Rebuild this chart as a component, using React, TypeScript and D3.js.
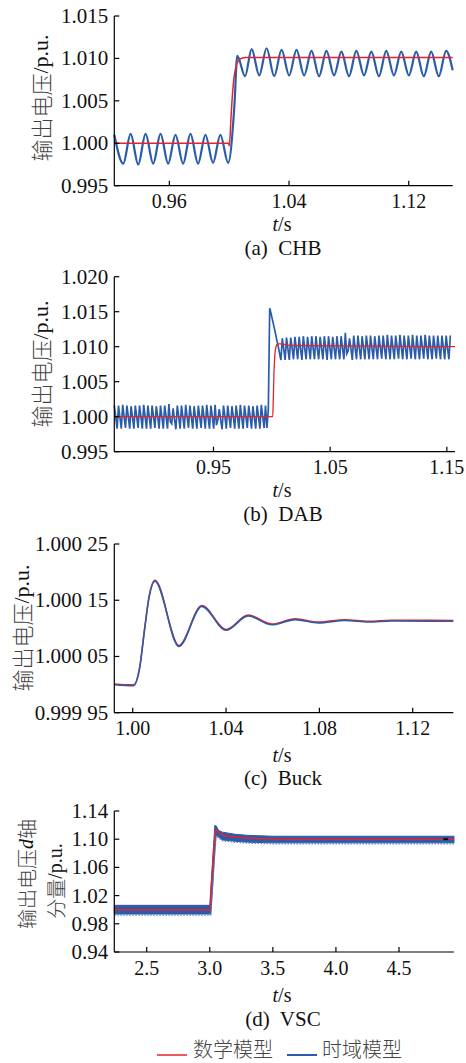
import React from 'react';
import * as d3 from 'd3';

const W = 466;
const H = 1063;
const SERIF = '"Liberation Serif", "Times New Roman", "DejaVu Serif", serif';
const CJK = '"Noto Sans CJK SC", "Noto Sans CJK JP", sans-serif';
const RED = '#e8222c';
const BLUE = '#2b5ca9';

// ---------- (a) CHB ----------
const chbYTicks = [0.995, 1.0, 1.005, 1.01, 1.015];
const chbYLabels = ['0.995', '1.000', '1.005', '1.010', '1.015'];
const chbXTicks = [0.96, 1.04, 1.12];
const chbXLabels = ['0.96', '1.04', '1.12'];
const chbRedT = [0.9232, 0.9995, 1.0001, 1.0012, 1.0022, 1.0032, 1.0045, 1.006, 1.008, 1.011, 1.1494];
const chbRedV = [1.0, 1.0, 0.9997, 1.003, 1.0058, 1.0077, 1.009, 1.0097, 1.01, 1.0101, 1.0101];
const chbBlueT = [
  0.9232, 0.9292, 0.9341, 0.9392, 0.9441, 0.9492, 0.9541, 0.9592, 0.9641, 0.9692, 0.9741, 0.9792,
  0.9841, 0.9892, 0.9941, 0.9993, 1.0035, 1.0054, 1.0106, 1.015, 1.0201, 1.025, 1.0301, 1.035,
  1.0401, 1.045, 1.0501, 1.055, 1.0601, 1.065, 1.0701, 1.075, 1.0801, 1.085, 1.0901, 1.095,
  1.1001, 1.105, 1.1101, 1.115, 1.1201, 1.125, 1.1301, 1.135, 1.1401, 1.145, 1.1494,
];
const chbBlueV = [
  1.001, 0.9976, 1.0011, 0.9975, 1.0011, 0.9976, 1.0011, 0.9976, 1.001, 0.9976, 1.0011, 0.9976,
  1.001, 0.9977, 1.001, 0.9977, 1.0045, 1.0103, 1.0079, 1.0111, 1.008, 1.0112, 1.0079, 1.011,
  1.008, 1.011, 1.008, 1.0109, 1.0079, 1.0109, 1.008, 1.0108, 1.0079, 1.0109, 1.008, 1.0108,
  1.0079, 1.0109, 1.008, 1.0108, 1.008, 1.0108, 1.0079, 1.0108, 1.0079, 1.0109, 1.0086,
];

// ---------- (b) DAB ----------
const dabYTicks = [0.995, 1.0, 1.005, 1.01, 1.015, 1.02];
const dabYLabels = ['0.995', '1.000', '1.005', '1.010', '1.015', '1.020'];
const dabXTicks = [0.95, 1.05, 1.15];
const dabXLabels = ['0.95', '1.05', '1.15'];
const dabRedT = [0.865, 1.0008, 1.0012, 1.0018, 1.0026, 1.0036, 1.005, 1.008, 1.015, 1.157];
const dabRedV = [1.0, 1.0, 1.002, 1.006, 1.0088, 1.01, 1.0104, 1.0104, 1.0102, 1.01];
const dabT0 = 0.865;
const dabDt = 0.0012;
const dabBluePre = [
  1.0016, 1.0, 0.9983, 1.0016, 0.9999, 0.9983, 1.0017, 1.0, 0.9984, 1.0016, 1.0, 0.9983,
  1.0015, 0.9999, 0.9983, 1.0016, 1.0, 0.9984, 1.0016, 1.0, 0.9983, 1.0017, 1.0, 0.9983,
  1.0016, 0.9999, 0.9983, 1.0016, 1.0, 0.9984, 1.0015, 1.0, 0.9983, 1.0016, 0.9999, 0.9983,
  1.0016, 1.0, 0.9983, 1.0018, 0.9993, 0.999, 1.0012, 0.9996, 0.9982, 1.0016, 1.0, 0.9983,
  1.0016, 0.9999, 0.9983, 1.0017, 1.0, 0.9984, 1.0016, 1.0, 0.9983, 1.0015, 0.9999, 0.9983,
  1.0016, 1.0, 0.9984, 1.0016, 1.0, 0.9983, 1.0017, 0.9999, 0.9983, 1.0016, 1.0, 0.9983,
  1.0017, 0.9988, 0.9996, 1.0011, 0.9995, 0.9982, 1.0016, 1.0, 0.9983, 1.0016, 0.9999, 0.9984,
  1.0015, 1.0, 0.9983, 1.0016, 1.0, 0.9983, 1.0017, 0.9999, 0.9983, 1.0016, 1.0, 0.9984,
  1.0016, 1.0, 0.9983, 1.0015, 0.9999, 0.9983, 1.0016, 1.0, 0.9983, 1.0017, 1.0, 0.9984,
  1.0016, 0.9984,
];
const dabBluePost = [
  1.001, 1.0155, 1.0147, 1.0138, 1.0129, 1.012, 1.011, 1.0101, 1.0091, 1.0081,
  1.0112, 1.0097, 1.0081, 1.0113, 1.0097, 1.0081, 1.0113, 1.0098, 1.0082, 1.0114, 1.0098, 1.0082,
  1.0114, 1.0097, 1.0081, 1.0115, 1.0098, 1.0082, 1.0114, 1.0098, 1.0082, 1.0115, 1.0098, 1.0082,
  1.0115, 1.0097, 1.0082, 1.0114, 1.0098, 1.0082, 1.0115, 1.0098, 1.0081, 1.0115, 1.0098, 1.0082,
  1.0114, 1.0098, 1.0082, 1.0115, 1.0097, 1.0082, 1.0115, 1.0098, 1.0082, 1.012, 1.009, 1.0094,
  1.0112, 1.0097, 1.0081, 1.0116, 1.0098, 1.0082, 1.0116, 1.0098, 1.0082, 1.0115, 1.0098, 1.0082,
  1.0116, 1.0099, 1.0082, 1.0116, 1.0098, 1.0082, 1.0115, 1.0098, 1.0082, 1.0116, 1.0099, 1.0083,
  1.0116, 1.0098, 1.0082, 1.0117, 1.0099, 1.0082, 1.0116, 1.0098, 1.0082, 1.0116, 1.0099, 1.0083,
  1.0117, 1.0099, 1.0082, 1.0116, 1.0098, 1.0082, 1.0116, 1.0099, 1.0083, 1.0117, 1.0099, 1.0082,
  1.0116, 1.0098, 1.0082, 1.0116, 1.0099, 1.0083, 1.0117, 1.0099, 1.0082, 1.0116, 1.0098, 1.0082,
  1.0116, 1.0099, 1.0083, 1.0116, 1.0098, 1.0082, 1.0116, 1.0099, 1.0082, 1.0116, 1.0098, 1.0082,
  1.0116,
];

// ---------- (c) Buck ----------
const buckYTicks = [0.99995, 1.00005, 1.00015, 1.00025];
const buckYLabels = ['0.999 95', '1.000 05', '1.000 15', '1.000 25'];
const buckXTicks = [1.0, 1.04, 1.08, 1.12];
const buckXLabels = ['1.00', '1.04', '1.08', '1.12'];
const buckT = [
  0.9921, 1.0003, 1.003, 1.005, 1.007, 1.0095, 1.0198, 1.0296, 1.04, 1.0495, 1.0596, 1.0696,
  1.0796, 1.091, 1.101, 1.111, 1.1374,
];
const buckBlueV = [
  0.9999998, 0.999998, 1.00003, 1.000095, 1.000155, 1.000184, 1.000068, 1.000139, 1.0000966,
  1.0001221, 1.0001063, 1.0001156, 1.0001097, 1.000114, 1.0001112, 1.000113, 1.0001125,
];
const buckRedV = [
  1.0000012, 0.9999995, 1.0000315, 1.0000965, 1.0001565, 1.0001855, 1.0000695, 1.0001405,
  1.000098, 1.0001236, 1.0001078, 1.0001171, 1.0001112, 1.0001155, 1.0001127, 1.0001145,
  1.000114,
];

// ---------- (d) VSC ----------
const vscYTicks = [0.94, 0.98, 1.02, 1.06, 1.1, 1.14];
const vscYLabels = ['0.94', '0.98', '1.02', '1.06', '1.10', '1.14'];
const vscXTicks = [2.5, 3.0, 3.5, 4.0, 4.5];
const vscXLabels = ['2.5', '3.0', '3.5', '4.0', '4.5'];
const vscBandT = [2.243, 3.0, 3.008, 3.02, 3.04, 3.05, 3.07, 3.1, 3.2, 3.3, 3.5, 4.936];
const vscBandHi = [1.0062, 1.0062, 1.029, 1.063, 1.1195, 1.119, 1.1125, 1.11, 1.107, 1.1055, 1.1042, 1.1042];
const vscBandLo = [0.9938, 0.9938, 0.9938, 1.026, 1.082, 1.106, 1.103, 1.099, 1.097, 1.0958, 1.0948, 1.0948];
const vscRedT = [2.243, 3.001, 3.01, 3.03, 3.045, 3.054, 3.07, 3.107, 3.16, 3.239, 3.35, 3.5, 3.7, 4.936];
const vscRedV = [1.0, 1.0, 1.025, 1.08, 1.11, 1.1138, 1.11, 1.1057, 1.1038, 1.1024, 1.1012, 1.1004, 1.1, 1.1];
const vscMarkT = [4.852, 4.89];
const vscMarkV = [1.1, 1.1];

const legendNames = ['数学模型', '时域模型'];

type Pt = [number, number];
const zip = (t: number[], v: number[]): Pt[] =>
  t.slice(0, Math.min(t.length, v.length)).map((x, i) => [x, v[i]] as Pt);

const serifStyle: React.CSSProperties = { fontFamily: SERIF, fontSize: '21px' };
const serifSmall: React.CSSProperties = { fontFamily: SERIF, fontSize: '20px' };
const cjkStyle: React.CSSProperties = { fontFamily: CJK, fontWeight: 300 };

type PanelProps = {
  left: number;
  right: number;
  top: number;
  bottom: number;
  xDomain: [number, number];
  yDomain: [number, number];
  xTicks: number[];
  xLabels: string[];
  yTicks: number[];
  yLabels: string[];
  tsOffset: number;
  capOffset: number;
  caption: string;
  ylabel: React.ReactNode;
  series: (xs: d3.ScaleLinear<number, number>, ys: d3.ScaleLinear<number, number>) => React.ReactNode;
};

function Panel(p: PanelProps) {
  const xs = d3.scaleLinear().domain(p.xDomain).range([p.left, p.right]);
  const ys = d3.scaleLinear().domain(p.yDomain).range([p.bottom, p.top]);
  return (
    <g>
      {p.series(xs, ys)}
      <line x1={p.left} x2={p.left} y1={p.top} y2={p.bottom} stroke="#000" strokeWidth={1.2} />
      <line x1={p.left} x2={p.right} y1={p.bottom} y2={p.bottom} stroke="#000" strokeWidth={1.2} />
      {p.yTicks.map((v, i) => (
        <g key={'y' + i}>
          <line x1={p.left} x2={p.left + 5} y1={ys(v)} y2={ys(v)} stroke="#000" strokeWidth={1.2} />
          <text x={p.left - 6} y={ys(v) + 7} textAnchor="end" style={serifStyle} fill="#111">
            {p.yLabels[i]}
          </text>
        </g>
      ))}
      {p.xTicks.map((v, i) => (
        <g key={'x' + i}>
          <line x1={xs(v)} x2={xs(v)} y1={p.bottom} y2={p.bottom - 5} stroke="#000" strokeWidth={1.2} />
          <text x={xs(v)} y={p.bottom + 22.5} textAnchor="middle" style={serifSmall} fill="#111">
            {p.xLabels[i]}
          </text>
        </g>
      ))}
      <text x={282} y={p.bottom + p.tsOffset} textAnchor="middle" style={serifSmall} fill="#111">
        <tspan fontStyle="italic">t</tspan>/s
      </text>
      <text
        x={283}
        y={p.bottom + p.capOffset}
        textAnchor="middle"
        style={{ ...serifStyle, whiteSpace: 'pre' }}
        fill="#111"
      >
        {p.caption}
      </text>
      {p.ylabel}
    </g>
  );
}

function YLabel({ x, y, size = 22, children }: { x: number; y: number; size?: number; children: React.ReactNode }) {
  return (
    <text
      transform={`translate(${x},${y}) rotate(-90)`}
      textAnchor="middle"
      dominantBaseline="central"
      style={{ fontSize: size + 'px' }}
      fill="#444"
    >
      {children}
    </text>
  );
}

const stdLabel = (x: number, y: number) => (
  <YLabel x={x} y={y}>
    <tspan style={cjkStyle}>输出电压</tspan>
    <tspan style={{ fontFamily: SERIF }} fill="#111">/p.u.</tspan>
  </YLabel>
);

export default function App() {
  const lineMono = (xs: any, ys: any) =>
    d3
      .line<Pt>()
      .x((d) => xs(d[0]))
      .y((d) => ys(d[1]))
      .curve(d3.curveMonotoneX);
  const lineLin = (xs: any, ys: any) =>
    d3
      .line<Pt>()
      .x((d) => xs(d[0]))
      .y((d) => ys(d[1]));

  const dabBlueV = [...dabBluePre, ...dabBluePost];
  const dabBlueT = dabBlueV.map((_, i) => dabT0 + i * dabDt);

  return (
    <svg
      width={W}
      height={H}
      viewBox={`0 0 ${W} ${H}`}
      style={{ position: 'absolute', left: 0, top: 0, background: '#fff' }}
    >
      <rect x={0} y={0} width={W} height={H} fill="#fff" />

      {/* (a) CHB */}
      <Panel
        left={114.3}
        right={452.7}
        top={16}
        bottom={185.7}
        xDomain={[0.9232, 1.1494]}
        yDomain={[0.995, 1.015]}
        xTicks={chbXTicks}
        xLabels={chbXLabels}
        yTicks={chbYTicks}
        yLabels={chbYLabels}
        tsOffset={45}
        capOffset={69.5}
        caption="(a)  CHB"
        ylabel={stdLabel(40, 98)}
        series={(xs, ys) => (
          <g>
            <path d={lineMono(xs, ys)(zip(chbBlueT, chbBlueV)) || ''} fill="none" stroke={BLUE} strokeWidth={2.2} />
            <path d={lineMono(xs, ys)(zip(chbRedT, chbRedV)) || ''} fill="none" stroke={RED} strokeWidth={1.5} />
          </g>
        )}
      />

      {/* (b) DAB */}
      <Panel
        left={114.3}
        right={455}
        top={276.7}
        bottom={451.7}
        xDomain={[0.865, 1.157]}
        yDomain={[0.995, 1.02]}
        xTicks={dabXTicks}
        xLabels={dabXLabels}
        yTicks={dabYTicks}
        yLabels={dabYLabels}
        tsOffset={45}
        capOffset={69.5}
        caption="(b)  DAB"
        ylabel={stdLabel(40, 364)}
        series={(xs, ys) => (
          <g>
            <path d={lineLin(xs, ys)(zip(dabBlueT, dabBlueV)) || ''} fill="none" stroke={BLUE} strokeWidth={1.7} />
            <path d={lineMono(xs, ys)(zip(dabRedT, dabRedV)) || ''} fill="none" stroke={RED} strokeWidth={1.3} />
          </g>
        )}
      />

      {/* (c) Buck */}
      <Panel
        left={114.3}
        right={453.3}
        top={544}
        bottom={712.7}
        xDomain={[0.9921, 1.1374]}
        yDomain={[0.99995, 1.00025]}
        xTicks={buckXTicks}
        xLabels={buckXLabels}
        yTicks={buckYTicks}
        yLabels={buckYLabels}
        tsOffset={49}
        capOffset={72}
        caption="(c)  Buck"
        ylabel={stdLabel(21, 628)}
        series={(xs, ys) => (
          <g>
            <path d={lineMono(xs, ys)(zip(buckT, buckRedV)) || ''} fill="none" stroke={RED} strokeWidth={1.5} />
            <path d={lineMono(xs, ys)(zip(buckT, buckBlueV)) || ''} fill="none" stroke={BLUE} strokeWidth={1.6} />
          </g>
        )}
      />

      {/* (d) VSC */}
      <Panel
        left={114.3}
        right={454}
        top={811}
        bottom={952}
        xDomain={[2.243, 4.936]}
        yDomain={[0.94, 1.14]}
        xTicks={vscXTicks}
        xLabels={vscXLabels}
        yTicks={vscYTicks}
        yLabels={vscYLabels}
        tsOffset={50}
        capOffset={74}
        caption="(d)  VSC"
        ylabel={
          <g>
            <YLabel x={26} y={874} size={20}>
              <tspan style={cjkStyle}>输出电压</tspan>
              <tspan style={{ fontFamily: SERIF, fontStyle: 'italic' }} fill="#111">d</tspan>
              <tspan style={cjkStyle}>轴</tspan>
            </YLabel>
            <YLabel x={55} y={881} size={20}>
              <tspan style={cjkStyle}>分量</tspan>
              <tspan style={{ fontFamily: SERIF }} fill="#111">/p.u.</tspan>
            </YLabel>
          </g>
        }
        series={(xs, ys) => {
          const band = zip(vscBandT, vscBandHi).map((d, i) => ({ t: d[0], hi: d[1], lo: vscBandLo[i] }));
          const area = d3
            .area<{ t: number; hi: number; lo: number }>()
            .x((d) => xs(d.t))
            .y0((d) => ys(d.lo))
            .y1((d) => ys(d.hi));
          const lower = d3
            .line<{ t: number; hi: number; lo: number }>()
            .x((d) => xs(d.t))
            .y((d) => ys(d.lo) + 1);
          return (
            <g>
              <path d={area(band) || ''} fill={BLUE} stroke={BLUE} strokeWidth={1} />
              <path d={lower(band) || ''} fill="none" stroke="#5f86c8" strokeWidth={1.2} strokeDasharray="1.5,1.5" />
              <path d={lineMono(xs, ys)(zip(vscRedT, vscRedV)) || ''} fill="none" stroke={RED} strokeWidth={1.5} />
              <path d={lineLin(xs, ys)(zip(vscMarkT, vscMarkV)) || ''} fill="none" stroke="#000" strokeWidth={1.8} />
            </g>
          );
        }}
      />

      {/* Legend */}
      <g>
        <line x1={157} x2={187} y1={1055} y2={1055} stroke={RED} strokeWidth={1.5} />
        <text x={193} y={1057} style={{ ...cjkStyle, fontSize: '20px' }} fill="#444">
          {legendNames[0]}
        </text>
        <line x1={287} x2={317} y1={1055} y2={1055} stroke={BLUE} strokeWidth={2} />
        <text x={322} y={1057} style={{ ...cjkStyle, fontSize: '20px' }} fill="#444">
          {legendNames[1]}
        </text>
      </g>
    </svg>
  );
}
